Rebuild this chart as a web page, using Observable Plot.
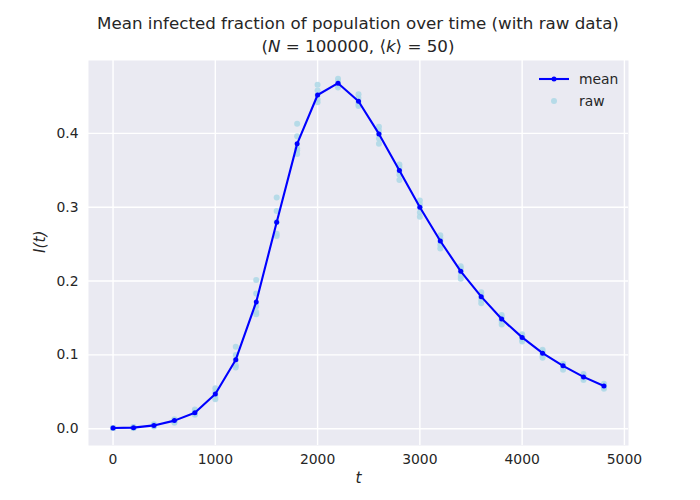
<!DOCTYPE html>
<html>
<head>
<meta charset="utf-8">
<script src="https://cdn.jsdelivr.net/npm/d3@7"></script>
<script src="https://cdn.jsdelivr.net/npm/@observablehq/plot@0.6"></script>
<style>
  body { margin: 0; background: #ffffff; font-family: "DejaVu Sans", sans-serif; }
  #wrap { position: relative; width: 700px; height: 500px; }
  #title { position: absolute; left: 88px; width: 540px; top: 12px; text-align: center;
           font-size: 16.7px; color: #262626; line-height: 23px; }
  #chart { position: absolute; left: 0; top: 56px; }
  #legend { position: absolute; left: 535px; top: 68px; font-size: 13.9px; color: #262626; }
  .lrow { display: flex; align-items: center; height: 22px; }
  .lrow svg { margin-right: 6px; }
</style>
</head>
<body>
<div id="wrap">
  <div id="title">Mean infected fraction of population over time (with raw data)<br>(<i>N</i> = 100000, ⟨<i>k</i>⟩ = 50)</div>
  <div id="chart"></div>
  <div id="legend">
    <div class="lrow"><svg width="38" height="10"><line x1="4" x2="34" y1="5" y2="5" stroke="#0000ff" stroke-width="2.1"/><circle cx="19" cy="5" r="2.5" fill="#0000ff"/></svg><span>mean</span></div>
    <div class="lrow"><svg width="38" height="10"><circle cx="19" cy="5" r="3" fill="#add8e6" fill-opacity="0.85"/></svg><span>raw</span></div>
  </div>
</div>
<script>
const times = [0,200,400,600,800,1000,1200,1400,1600,1800,2000,2200,2400,2600,2800,3000,3200,3400,3600,3800,4000,4200,4400,4600,4800];
const meanI = [0.001,0.0015,0.0045,0.011,0.0217,0.047,0.0935,0.1717,0.2796,0.3858,0.452,0.468,0.4435,0.3993,0.3496,0.2999,0.2543,0.2132,0.1789,0.1486,0.1237,0.1024,0.0852,0.0702,0.0579];
const run1 = [0.001,0.0025,0.006,0.013,0.026,0.055,0.111,0.2015,0.313,0.413,0.466,0.474,0.453,0.409,0.358,0.309,0.262,0.220,0.185,0.154,0.128,0.107,0.088,0.074,0.061];
const run2 = [0.001,0.002,0.005,0.012,0.024,0.050,0.100,0.183,0.295,0.396,0.458,0.470,0.448,0.404,0.354,0.304,0.258,0.217,0.181,0.151,0.126,0.105,0.087,0.071,0.059];
const run3 = [0.001,0.0015,0.0045,0.011,0.022,0.046,0.093,0.166,0.280,0.380,0.452,0.468,0.443,0.399,0.349,0.300,0.254,0.213,0.178,0.148,0.124,0.102,0.085,0.070,0.058];
const run4 = [0.001,0.0012,0.004,0.009,0.020,0.042,0.086,0.158,0.264,0.377,0.446,0.465,0.439,0.393,0.344,0.293,0.249,0.207,0.174,0.145,0.121,0.099,0.083,0.068,0.056];
const run5 = [0.001,0.001,0.003,0.008,0.019,0.040,0.083,0.155,0.261,0.372,0.442,0.462,0.437,0.386,0.337,0.287,0.244,0.203,0.170,0.141,0.118,0.096,0.080,0.066,0.054];
const xTicks = [0,1000,2000,3000,4000,5000];
const yTicks = [0.0,0.1,0.2,0.3,0.4];

const meanData = times.map((t, i) => ({t, I: meanI[i]}));
const rawData = [run1, run2, run3, run4, run5].flatMap(run => run.map((v, i) => ({t: times[i], I: v})));

const chart = Plot.plot({
  width: 700,
  height: 444,
  marginLeft: 88,
  marginRight: 72,
  marginTop: 4,
  marginBottom: 55,
  style: {fontFamily: "DejaVu Sans, sans-serif", fontSize: "13.9px", color: "#262626", background: "transparent"},
  x: {domain: [-240, 5040], ticks: xTicks},
  y: {domain: [-0.0227, 0.4987], ticks: yTicks},
  marks: [
    Plot.frame({fill: "#eaeaf2", stroke: null}),
    Plot.gridX(xTicks, {stroke: "#ffffff", strokeOpacity: 1, strokeWidth: 1.4}),
    Plot.gridY(yTicks, {stroke: "#ffffff", strokeOpacity: 1, strokeWidth: 1.4}),
    Plot.axisX(xTicks, {tickSize: 0, tickPadding: 9, label: null, tickFormat: d => String(d), fontSize: 13.9, fill: "#262626"}),
    Plot.axisY(yTicks, {tickSize: 0, tickPadding: 10, label: null, tickFormat: d => d.toFixed(1), fontSize: 13.9, fill: "#262626"}),
    Plot.text(["t"], {frameAnchor: "bottom", dy: 37, fontStyle: "italic", fontSize: 15.3, fill: "#262626"}),
    Plot.text(["I(t)"], {frameAnchor: "left", dx: -48, rotate: -90, fontStyle: "italic", fontSize: 15.3, fill: "#262626"}),
    Plot.dot(rawData, {x: "t", y: "I", r: 3, fill: "#add8e6", fillOpacity: 0.85, stroke: null}),
    Plot.line(meanData, {x: "t", y: "I", stroke: "#0000ff", strokeWidth: 2.1}),
    Plot.dot(meanData, {x: "t", y: "I", r: 2.5, fill: "#0000ff", stroke: null})
  ]
});
document.getElementById("chart").appendChild(chart);
</script>
</body>
</html>
